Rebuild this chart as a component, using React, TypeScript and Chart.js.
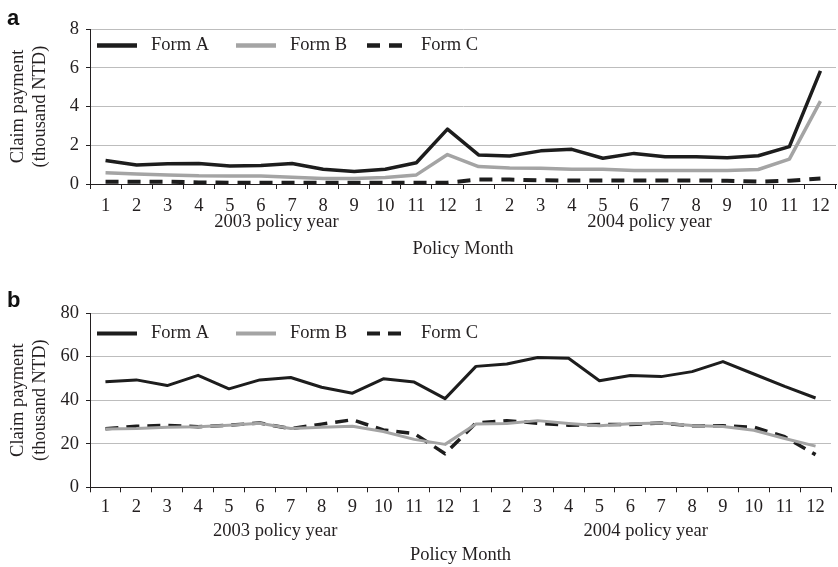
import React, { useEffect, useRef } from 'react';
import { Chart, registerables } from 'chart.js';

Chart.register(...registerables);

// ---------- data ----------
const monthLabels = ['1', '2', '3', '4', '5', '6', '7', '8', '9', '10', '11', '12', '1', '2', '3', '4', '5', '6', '7', '8', '9', '10', '11', '12'];
const yearLabels = ['2003 policy year', '2004 policy year'];
const seriesNames = ['Form A', 'Form B', 'Form C'];
const axisTitleX = 'Policy Month';
const axisTitleY = ['Claim payment', '(thousand NTD)'];

// panel a
const panelAFormA = [1.21, 0.98, 1.05, 1.06, 0.93, 0.95, 1.06, 0.76, 0.64, 0.76, 1.1, 2.83, 1.5, 1.45, 1.71, 1.79, 1.33, 1.58, 1.41, 1.41, 1.35, 1.46, 1.93, 5.84];
const panelAFormB = [0.58, 0.52, 0.47, 0.42, 0.41, 0.41, 0.35, 0.29, 0.29, 0.34, 0.47, 1.52, 0.9, 0.82, 0.81, 0.76, 0.76, 0.7, 0.7, 0.7, 0.7, 0.75, 1.28, 4.28];
const panelAFormC = [0.12, 0.12, 0.12, 0.08, 0.07, 0.07, 0.07, 0.07, 0.07, 0.07, 0.07, 0.07, 0.23, 0.23, 0.19, 0.18, 0.18, 0.18, 0.18, 0.18, 0.17, 0.12, 0.17, 0.28];
const panelAYMax = 8;
const panelAYStep = 2;

// panel b
const panelBFormA = [48.4, 49.3, 46.7, 51.4, 45.2, 49.3, 50.4, 45.9, 43.2, 49.8, 48.3, 40.7, 55.5, 56.6, 59.6, 59.2, 48.9, 51.3, 50.8, 53.1, 57.7, 52.0, 46.3, 41.0];
const panelBFormB = [26.8, 27.0, 27.6, 27.8, 28.5, 29.4, 27.0, 27.6, 28.0, 25.6, 22.0, 19.7, 29.0, 29.3, 30.6, 29.3, 28.3, 29.2, 29.5, 28.4, 27.9, 26.2, 22.4, 18.9];
const panelBFormC = [26.9, 28.0, 28.4, 27.8, 28.5, 29.5, 26.9, 29.0, 31.0, 26.3, 24.7, 15.4, 29.5, 30.6, 29.4, 28.5, 28.8, 28.8, 29.5, 28.2, 28.2, 27.6, 23.2, 15.0];
const panelBYMax = 80;
const panelBYStep = 20;

// ---------- styles ----------
const TEXT = '#231f20';
const DARK = '#1d1d1d';
const GRAY = '#a4a4a4';
const GRID = '#bdbdbd';
const FS = 18.5;
const serif = (size: number, lh = 1.2) => ({ family: '"Liberation Serif", "Times New Roman", serif', size, lineHeight: lh });

const inlineLegend = {
  id: 'inlineLegend',
  afterDraw(chart: any, _args: any, opts: any) {
    const { ctx, chartArea } = chart;
    ctx.save();
    chart.data.datasets.forEach((ds: any, i: number) => {
      const x0 = chartArea.left + opts.starts[i];
      const y = chartArea.top + opts.dy;
      ctx.beginPath();
      ctx.strokeStyle = ds.borderColor;
      ctx.lineWidth = opts.lineWidth;
      ctx.lineCap = 'butt';
      ctx.setLineDash(ds.borderDash || []);
      ctx.moveTo(x0, y);
      ctx.lineTo(x0 + 40, y);
      ctx.stroke();
      ctx.setLineDash([]);
      ctx.fillStyle = TEXT;
      ctx.font = FS + 'px "Liberation Serif", serif';
      ctx.textBaseline = 'middle';
      ctx.textAlign = 'left';
      ctx.fillText(ds.label, x0 + 54, y);
    });
    ctx.font = 'bold 22px "Liberation Sans", Arial, sans-serif';
    ctx.fillStyle = '#111';
    ctx.textBaseline = 'alphabetic';
    ctx.fillText(opts.panel, opts.panelX, opts.panelY);
    ctx.restore();
  },
};

type PanelCfg = {
  values: number[][];
  yMax: number;
  yStep: number;
  padTop: number;
  padRight: number;
  h1: number;
  h2: number;
  tickPad: number;
  titlePadBottom: number;
  lineWidth: number;
  dash: number[];
  legendDy: number;
  panel: string;
  panelY: number;
};

function makeConfig(p: PanelCfg): any {
  const colors = [DARK, GRAY, DARK];
  return {
    type: 'line',
    data: {
      labels: monthLabels,
      datasets: seriesNames.map((name, i) => ({
        label: name,
        data: p.values[i],
        xAxisID: 'x',
        yAxisID: 'y',
        borderColor: colors[i],
        backgroundColor: colors[i],
        borderWidth: i === 2 ? p.lineWidth + 0.5 : p.lineWidth,
        borderDash: i === 2 ? p.dash : [],
        borderJoinStyle: 'round',
        pointRadius: 0,
        pointHoverRadius: 0,
        tension: 0,
        fill: false,
      })),
    },
    options: {
      responsive: false,
      animation: false,
      events: [],
      layout: { padding: { top: p.padTop, right: p.padRight, left: 0, bottom: 0 } },
      plugins: {
        legend: { display: false },
        tooltip: { enabled: false },
        inlineLegend: { starts: [7, 146, 277], dy: p.legendDy, lineWidth: p.lineWidth + 1, panel: p.panel, panelX: 7, panelY: p.panelY },
      },
      scales: {
        x: {
          type: 'category',
          position: 'bottom',
          weight: 0,
          offset: true,
          grid: { display: true, drawOnChartArea: false, drawTicks: true, tickLength: 5, offset: true, color: TEXT, tickColor: TEXT, lineWidth: 1 },
          border: { display: true, color: TEXT, width: 1 },
          ticks: { font: serif(FS), color: TEXT, padding: p.tickPad, maxRotation: 0, autoSkip: false },
          afterFit: (s: any) => { s.height = p.h1; },
        },
        x2: {
          type: 'category',
          position: 'bottom',
          weight: 1,
          offset: true,
          labels: yearLabels,
          grid: { display: false, drawTicks: false },
          border: { display: false },
          ticks: { font: serif(FS), color: TEXT, padding: 0, maxRotation: 0, autoSkip: false },
          title: { display: true, text: axisTitleX, font: serif(FS), color: TEXT, padding: { top: 0, bottom: p.titlePadBottom } },
          afterFit: (s: any) => { s.height = p.h2; },
        },
        y: {
          type: 'linear',
          position: 'left',
          min: 0,
          max: p.yMax,
          ticks: { stepSize: p.yStep, font: serif(FS), color: TEXT, padding: 7 },
          grid: { color: GRID, tickColor: TEXT, tickLength: 4, drawTicks: true, lineWidth: 1 },
          border: { display: true, color: TEXT, width: 1 },
          title: { display: true, text: axisTitleY, font: serif(FS, 22 / FS), color: TEXT, padding: { top: 7, bottom: 0 } },
          afterFit: (s: any) => { s.width = 90; },
        },
      },
    },
    plugins: [inlineLegend],
  };
}

function Panel({ cfg, height }: { cfg: PanelCfg; height: number }) {
  const ref = useRef<HTMLCanvasElement | null>(null);
  useEffect(() => {
    if (!ref.current) return;
    const chart = new Chart(ref.current, makeConfig(cfg));
    return () => chart.destroy();
  }, []);
  return <canvas ref={ref} width={838} height={height} style={{ display: 'block', width: 838, height }} />;
}

const cfgA: PanelCfg = {
  values: [panelAFormA, panelAFormB, panelAFormC],
  yMax: panelAYMax,
  yStep: panelAYStep,
  padTop: 29,
  padRight: 2,
  h1: 27,
  h2: 51,
  tickPad: 6.2,
  titlePadBottom: 2,
  lineWidth: 3.5,
  dash: [13, 9],
  legendDy: 16.5,
  panel: 'a',
  panelY: 25,
};

const cfgB: PanelCfg = {
  values: [panelBFormA, panelBFormB, panelBFormC],
  yMax: panelBYMax,
  yStep: panelBYStep,
  padTop: 51,
  padRight: 7,
  h1: 33.2,
  h2: 46.5,
  tickPad: 3.7,
  titlePadBottom: 0.3,
  lineWidth: 3,
  dash: [13, 8],
  legendDy: 20.5,
  panel: 'b',
  panelY: 45,
};

export default function App() {
  return (
    <div style={{ position: 'absolute', left: 0, top: 0, width: 838, height: 567, background: '#fff', overflow: 'hidden' }}>
      <Panel cfg={cfgA} height={262} />
      <Panel cfg={cfgB} height={305} />
    </div>
  );
}
